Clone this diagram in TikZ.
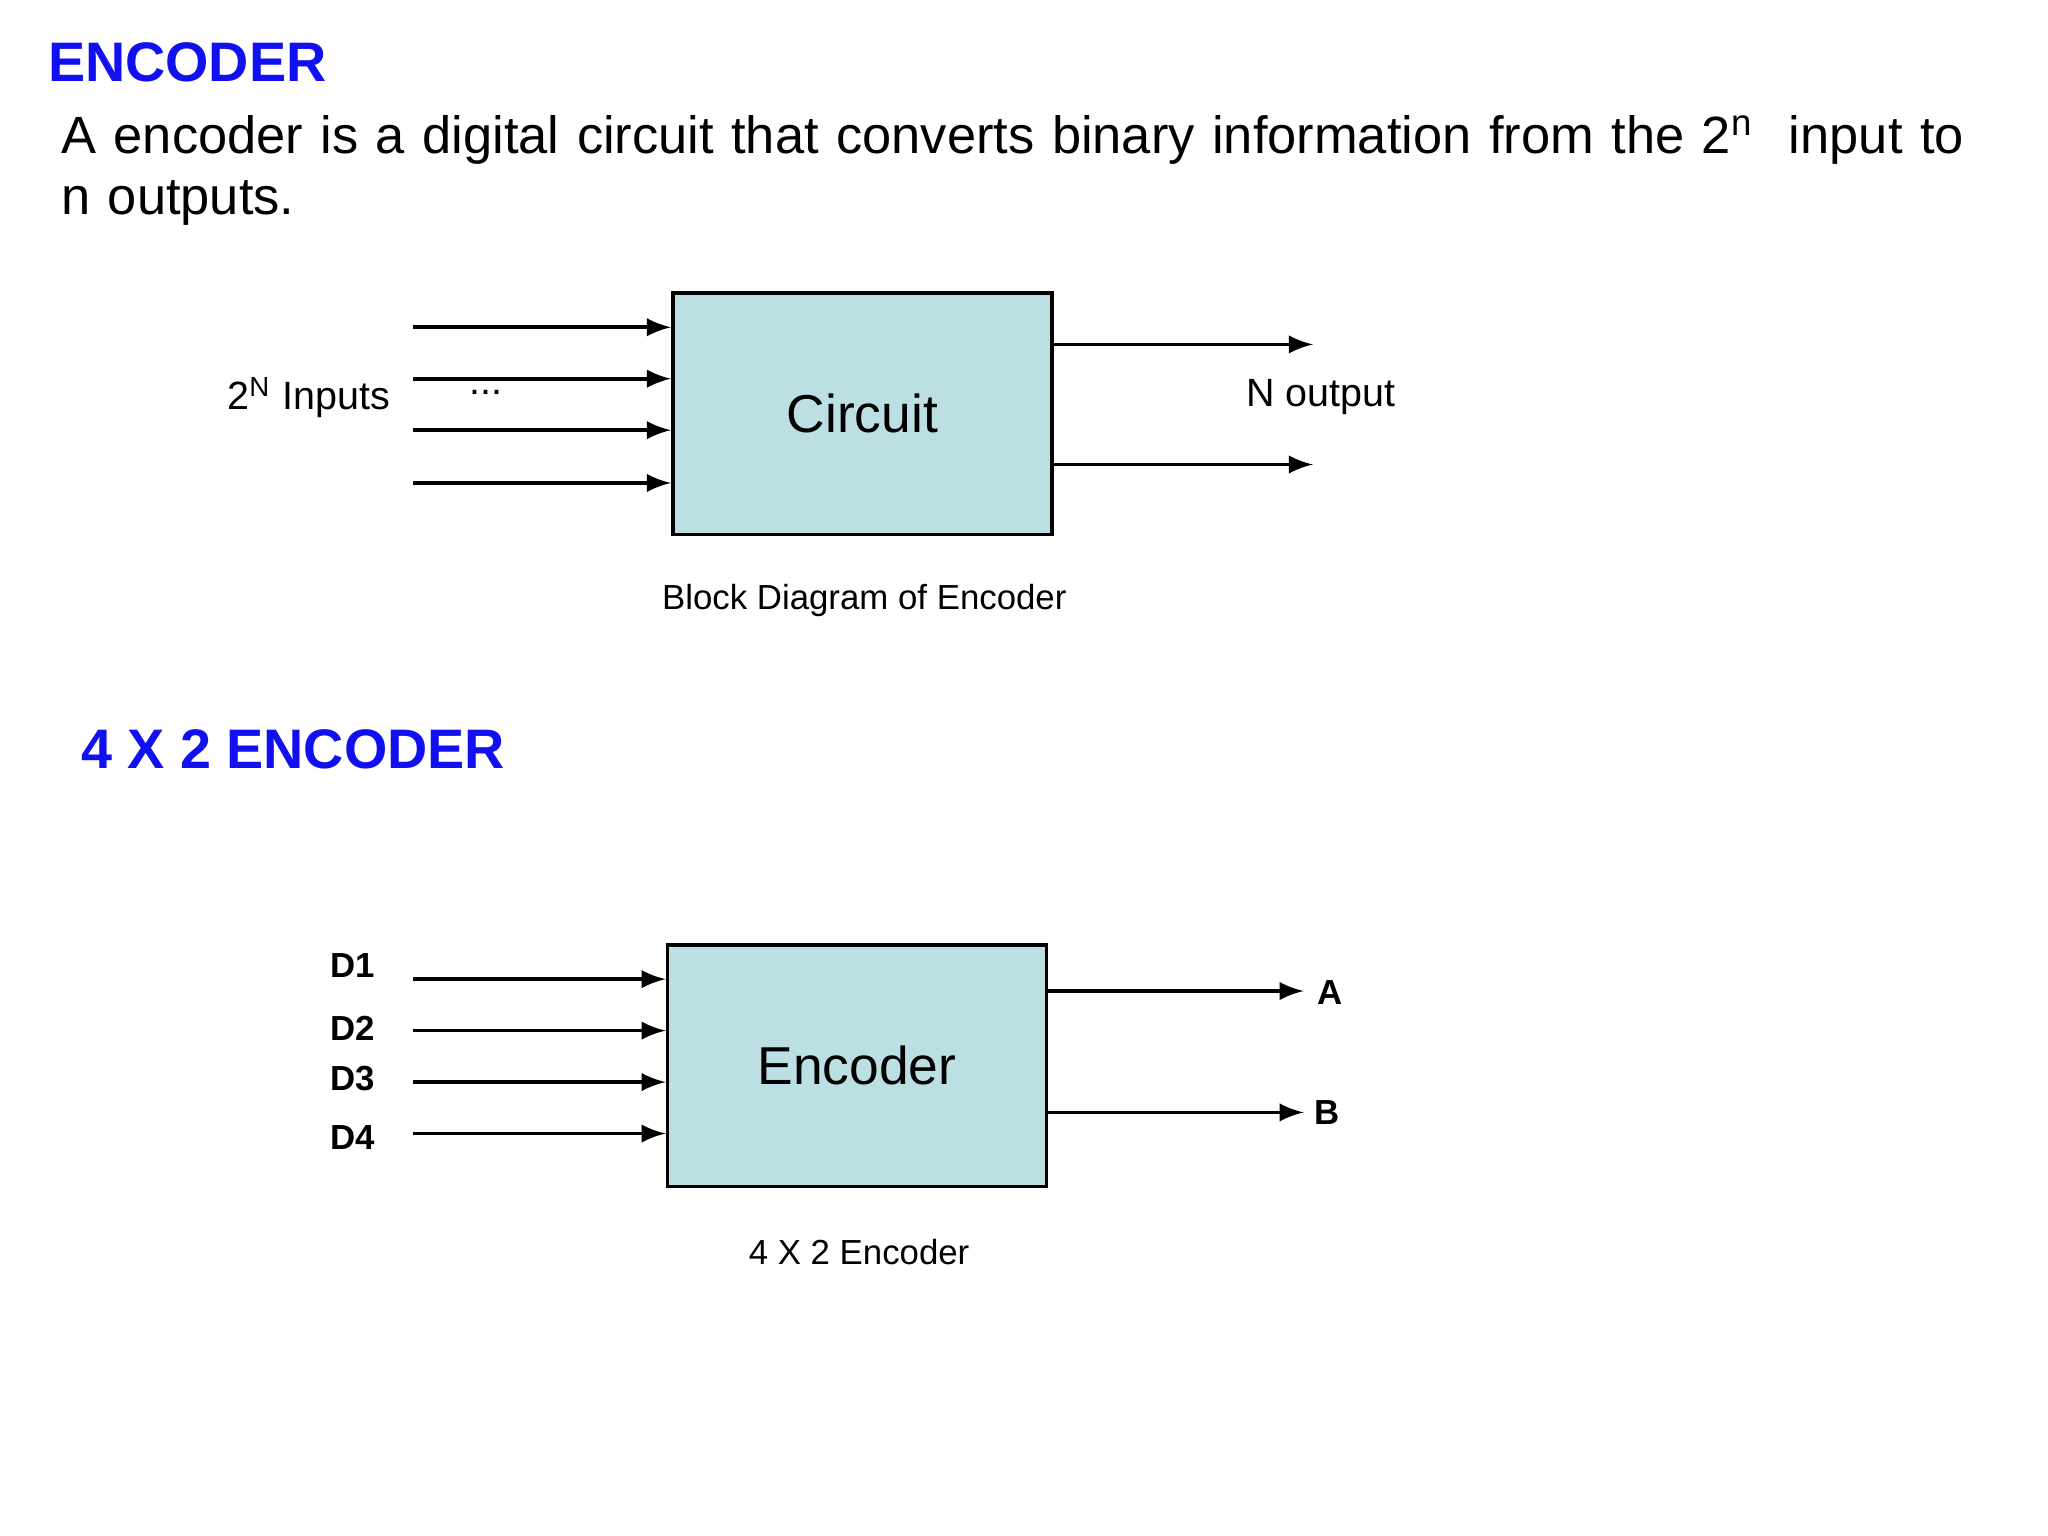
\documentclass[tikz,border=0pt]{standalone}
\usepackage{fontspec}
\setmainfont{Liberation Sans}
\usetikzlibrary{arrows}

\begin{document}
\begin{tikzpicture}[x=0.01cm, y=-0.01cm]
  \definecolor{boxblue}{HTML}{BBDFE2}
  \definecolor{headblue}{HTML}{1010F0}
  \tikzstyle{block}=[draw, thick, fill=boxblue, inner sep=0pt]
  \tikzstyle{wire}=[thick, -latex]
  \tikzstyle{head}=[text=headblue, font=\fontsize{12}{14}\selectfont\bfseries, anchor=west]
  \tikzstyle{lbl}=[font=\fontsize{8.5}{10}\selectfont]
  \tikzstyle{pin}=[font=\fontsize{7.5}{9}\selectfont\bfseries]

  \useasboundingbox[fill=white] (0,0) rectangle (1552,1164);

  % title and text
  \node[head] (title) at (24,47) {ENCODER};
  \node[anchor=north west, align=left, text width=14.6cm, font=\fontsize{11.3}{13.2}\selectfont] (intro) at (34,75)
    {A encoder is a digital circuit that converts binary information from the 2\textsuperscript{n}\ \ input to n outputs.};

  % block diagram
  \node[block, minimum width=2.87cm, minimum height=1.83cm, font=\fontsize{11.5}{14}\selectfont] (circ) at (653.5,313.5) {Circuit};
  \foreach \y [count=\i] in {248,287,326,366}
    \coordinate (in\i) at (313,\y);
  \foreach \i in {1,...,4}
    \draw[wire] (in\i) -- (in\i -| circ.west);
  \coordinate (out1) at (995,261);
  \coordinate (out2) at (995,352);
  \draw[wire] (out1 -| circ.east) -- (out1);
  \draw[wire] (out2 -| circ.east) -- (out2);
  \node[lbl] (inlbl) at (234,301) {2\textsuperscript{N} Inputs};
  \node[lbl] (dots) at (368,297) {...};
  \node[lbl] (outlbl) at (1001,301) {N output};
  \node[lbl, font=\fontsize{7.5}{9}\selectfont] (cap1) at (655,455) {Block Diagram of Encoder};

  % 4 x 2 encoder
  \node[head] (title2) at (49,568) {4 X 2 ENCODER};
  \node[block, minimum width=2.87cm, minimum height=1.83cm, font=\fontsize{11.5}{14}\selectfont] (enc) at (649.5,807.5) {Encoder};
  \foreach \y/\t/\ly [count=\i] in {742/D1/732,781/D2/779,820/D3/817,859/D4/862}{
    \coordinate (d\i) at (313,\y);
    \node[pin] (dl\i) at (267,\ly) {\t};
    \draw[wire] (d\i) -- (d\i -| enc.west);
  }
  \coordinate (oa) at (988,751);
  \coordinate (ob) at (988,843);
  \draw[wire] (oa -| enc.east) -- (oa);
  \draw[wire] (ob -| enc.east) -- (ob);
  \node[pin] (la) at (1008,752) {A};
  \node[pin] (lb) at (1006,843) {B};
  \node[lbl, font=\fontsize{7.5}{9}\selectfont] (cap2) at (651,949) {4 X 2 Encoder};
\end{tikzpicture}
\end{document}
